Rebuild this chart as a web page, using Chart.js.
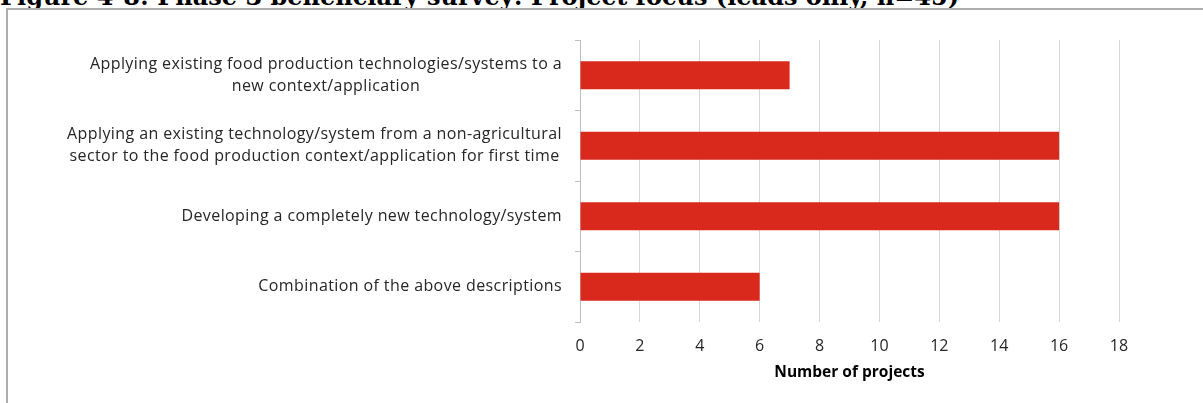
<!DOCTYPE html>
<html>
<head>
<meta charset="utf-8">
<script src="https://cdn.jsdelivr.net/npm/chart.js@4.4.1/dist/chart.umd.min.js"></script>
<style>
  html, body { margin: 0; padding: 0; background: #fff; overflow: hidden; }
  #page { position: relative; width: 1203px; height: 403px; overflow: hidden; }
  #caption {
    position: absolute; left: 0; top: -18px; white-space: nowrap;
    font: bold 24px "DejaVu Serif", serif; color: #000;
  }
  #frame {
    position: absolute; left: 6px; top: 8px; width: 1300px; height: 500px;
    border: 2px solid #aeaeae; box-sizing: border-box;
  }
  #chartBox { position: absolute; left: 0; top: 0; width: 1203px; height: 403px; }
</style>
</head>
<body>
<div id="page">
  <div id="caption">Figure 4-8: Phase 3 beneficiary survey: Project focus (leads only, n=45)</div>
  <div id="frame"></div>
  <div id="chartBox"><canvas id="focusChart" width="1203" height="403"></canvas></div>
</div>
<script>
// Project focus categories (each entry is the wrapped label lines)
const categories = [
    ['Applying existing food production technologies/systems to a', 'new context/application'],
    ['Applying an existing technology/system from a non-agricultural', 'sector to the food production context/application for first time'],
    ['Developing a completely new technology/system'],
    ['Combination of the above descriptions']
];
const projectCounts = [7, 16, 16, 6];
const xTicks = [0, 2, 4, 6, 8, 10, 12, 14, 16, 18];

const fontFamily = '"Open Sans", sans-serif';
const textColor = '#262626';

// Excel-style category labels: block right-aligned, lines centred within it
const categoryLabels = {
    id: 'categoryLabels',
    afterDraw(chart) {
        const ctx = chart.ctx;
        const yScale = chart.scales.y;
        const lineGap = 22;
        ctx.save();
        ctx.font = '16px ' + fontFamily;
        ctx.letterSpacing = '0.4px';
        ctx.fillStyle = textColor;
        ctx.textAlign = 'center';
        ctx.textBaseline = 'middle';
        categories.forEach((lines, i) => {
            const y = yScale.getPixelForTick(i);
            const blockWidth = Math.max(...lines.map(l => ctx.measureText(l).width));
            const cx = yScale.right - 18 - blockWidth / 2;
            const top = y - (lines.length - 1) * lineGap / 2;
            lines.forEach((line, j) => ctx.fillText(line, cx, top + j * lineGap));
        });
        ctx.restore();
    }
};

const ctx = document.getElementById('focusChart').getContext('2d');
const focusChart = new Chart(ctx, {
    type: 'bar',
    data: {
        labels: categories,
        datasets: [{
            data: projectCounts,
            backgroundColor: '#d9291c',
            barPercentage: 0.4,
            categoryPercentage: 1
        }]
    },
    options: {
        indexAxis: 'y',
        responsive: false,
        animation: false,
        layout: {
            padding: { top: 40, right: 84, bottom: 0, left: 0 }
        },
        plugins: {
            legend: { display: false },
            tooltip: { enabled: false }
        },
        scales: {
            y: {
                afterFit: (scale) => { scale.width = 580; },
                ticks: { display: false },
                grid: {
                    drawOnChartArea: false,
                    tickLength: 5,
                    color: '#bfbfbf'
                },
                border: { color: '#bfbfbf', width: 1 }
            },
            x: {
                min: 0,
                max: 18,
                afterFit: (scale) => { scale.height = 81; },
                afterBuildTicks: (scale) => {
                    scale.ticks = xTicks.map(v => ({ value: v }));
                },
                grid: {
                    drawTicks: false,
                    color: '#d5d9de'
                },
                border: { display: false },
                ticks: {
                    padding: 15,
                    color: textColor,
                    font: { family: fontFamily, size: 16 }
                },
                title: {
                    display: true,
                    text: 'Number of projects',
                    color: '#000',
                    padding: { top: 0, bottom: 21 },
                    font: { family: fontFamily, size: 15.5, weight: 'bold' }
                }
            }
        }
    },
    plugins: [categoryLabels]
});
</script>
</body>
</html>
